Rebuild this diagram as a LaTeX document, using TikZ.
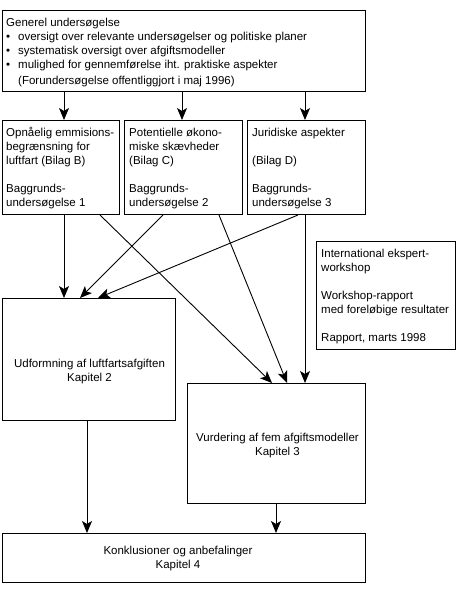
\documentclass[tikz,border=0pt]{standalone}
\usepackage{fontspec}
\setmainfont{Liberation Sans}
\usetikzlibrary{arrows.meta}
\begin{document}
\begin{tikzpicture}[x=1pt,y=-1pt,
  box/.style={draw,line width=1pt,rectangle,inner sep=0pt,anchor=north west},
  txt/.style={inner sep=0pt,align=left,anchor=base west,font=\fontsize{11.5}{14}\selectfont},
  ctxt/.style={inner sep=0pt,align=center,anchor=base,font=\fontsize{11.5}{14}\selectfont},
  arr/.style={line width=0.9pt,-{Stealth[length=12pt,width=10pt,inset=3pt]}}]
\useasboundingbox (0,0) rectangle (458,593);
% boxes
\node[box,minimum width=363pt,minimum height=81pt] (gen) at (2,10) {};
\node[box,minimum width=117pt,minimum height=94pt] (bB) at (2,120) {};
\node[box,minimum width=118pt,minimum height=94pt] (bC) at (124,120) {};
\node[box,minimum width=118pt,minimum height=94pt] (bD) at (247,120) {};
\node[box,minimum width=173pt,minimum height=122pt] (k2) at (2,298) {};
\node[box,minimum width=178pt,minimum height=120pt] (k3) at (187,383) {};
\node[box,minimum width=139pt,minimum height=108pt] (ws) at (316,241) {};
\node[box,minimum width=363pt,minimum height=49pt] (k4) at (2,533) {};
% texts (anchor = baseline of the last line)
\node[txt] (tgen) at (6,85) {Generel undersøgelse\\
\makebox[12pt][l]{•}oversigt over relevante undersøgelser og politiske planer\\
\makebox[12pt][l]{•}systematisk oversigt over afgiftsmodeller\\
\makebox[12pt][l]{•}mulighed for gennemførelse iht. praktiske aspekter\\[2pt]
\hspace*{12pt}(Forundersøgelse offentliggjort i maj 1996)};
\node[txt] (tB) at (6,207) {Opnåelig emmisions-\\begrænsning for\\luftfart (Bilag B)\\[14pt]Baggrunds-\\undersøgelse 1};
\node[txt] (tC) at (129,207) {Potentielle økono-\\miske skævheder\\(Bilag C)\\[14pt]Baggrunds-\\undersøgelse 2};
\node[txt] (tD) at (252,207) {Juridiske aspekter\\[14pt](Bilag D)\\[14pt]Baggrunds-\\undersøgelse 3};
\node[txt] (tW) at (321,341) {International ekspert-\\workshop\\[14pt]Workshop-rapport\\med foreløbige resultater\\[14pt]Rapport, marts 1998};
\node[ctxt] (t2) at (89.5,381) {Udformning af luftfartsafgiften\\Kapitel 2};
\node[ctxt] (t3) at (277.5,455) {Vurdering af fem afgiftsmodeller\\Kapitel 3};
\node[ctxt] (t4) at (178,568) {Konklusioner og anbefalinger\\Kapitel 4};
% arrows
\draw[arr] ([xshift=62pt]gen.south west) -- ([xshift=62pt]bB.north west);
\draw[arr] ([xshift=180pt]gen.south west) -- ([xshift=58pt]bC.north west);
\draw[arr] ([xshift=303pt]gen.south west) -- ([xshift=58pt]bD.north west);
\draw[arr] ([xshift=62pt]bB.south west) -- ([xshift=62pt]k2.north west);
\draw[arr] ([xshift=98pt]bB.south west) -- ([xshift=85pt]k3.north west);
\draw[arr] ([xshift=39pt]bC.south west) -- ([xshift=78pt]k2.north west);
\draw[arr] ([xshift=95pt]bC.south west) -- ([xshift=100pt]k3.north west);
\draw[arr] ([xshift=51pt]bD.south west) -- ([xshift=96pt]k2.north west);
\draw[arr] ([xshift=58pt]bD.south west) -- ([xshift=118pt]k3.north west);
\draw[arr] ([xshift=85pt]k2.south west) -- ([xshift=85pt]k4.north west);
\draw[arr] ([xshift=89pt]k3.south west) -- ([xshift=274pt]k4.north west);
\end{tikzpicture}
\end{document}
